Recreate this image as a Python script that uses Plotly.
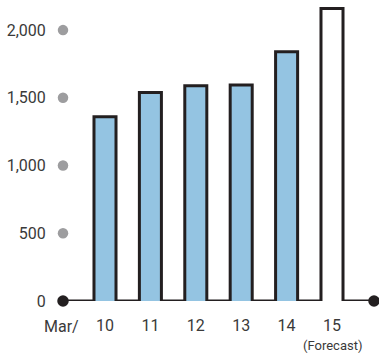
import plotly.graph_objects as go

# Fiscal years (March year-end) and values
years = ["10", "11", "12", "13", "14", "15"]
values = [1360, 1540, 1590, 1595, 1840, 2160]
is_forecast = [False, False, False, False, False, True]
y_ticks = [0, 500, 1000, 1500, 2000]
y_tick_labels = ["0", "500", "1,000", "1,500", "2,000"]

BLUE = "#94c4e2"
INK = "#231f20"
TEXT = "#3a3a3a"
GREY_DOT = "#9d9d9f"

bar_w = 0.485
x_pos = list(range(len(years)))
x_start = x_pos[0] - 0.925
x_end = x_pos[-1] + 0.925

fig = go.Figure()

# Filled columns (no outline; the outline is drawn as one continuous path)
fig.add_trace(go.Bar(
    x=x_pos, y=values, width=bar_w,
    marker=dict(color=["white" if f else BLUE for f in is_forecast], line=dict(width=0)),
    hoverinfo="skip", showlegend=False,
))

# Continuous outline: baseline stepping up and over each column
px, py = [x_start], [0]
for x, v in zip(x_pos, values):
    l, r = x - bar_w / 2, x + bar_w / 2
    px += [l, l, r, r]
    py += [0, v, v, 0]
px.append(x_end)
py.append(0)
fig.add_trace(go.Scatter(
    x=px, y=py, mode="lines", line=dict(color=INK, width=3),
    cliponaxis=False, hoverinfo="skip", showlegend=False,
))

# Grey guide dots at each value tick, black end dots on the baseline
fig.add_trace(go.Scatter(
    x=[x_start] * (len(y_ticks) - 1), y=y_ticks[1:], mode="markers",
    marker=dict(color=GREY_DOT, size=10.5), cliponaxis=False,
    hoverinfo="skip", showlegend=False,
))
fig.add_trace(go.Scatter(
    x=[x_start, x_end], y=[0, 0], mode="markers",
    marker=dict(color=INK, size=11.5), cliponaxis=False,
    hoverinfo="skip", showlegend=False,
))

fig.update_layout(
    width=379, height=356,
    margin=dict(l=63, r=5, t=3, b=55),
    paper_bgcolor="white", plot_bgcolor="white",
    font=dict(family="Roboto", size=16, color=TEXT),
    bargap=0,
    xaxis=dict(
        range=[x_start, x_end], tickmode="array", tickvals=x_pos, ticktext=years,
        showgrid=False, zeroline=False, showline=False,
        ticks="outside", ticklen=10, tickcolor="rgba(0,0,0,0)",
    ),
    yaxis=dict(
        range=[0, 2200], tickmode="array", tickvals=y_ticks, ticktext=y_tick_labels,
        showgrid=False, zeroline=False, showline=False,
        ticks="outside", ticklen=13, tickcolor="rgba(0,0,0,0)",
    ),
    annotations=[
        dict(text="Mar/", x=x_start, y=0, xref="x", yref="paper",
             yanchor="middle", xanchor="center", xshift=-2, yshift=-25,
             showarrow=False, font=dict(size=16, color=TEXT)),
        dict(text="(Forecast)", x=x_pos[-1], y=0, xref="x", yref="paper",
             yanchor="middle", yshift=-44, showarrow=False,
             font=dict(size=13, color=TEXT)),
    ],
)

fig.write_html("out.html")
